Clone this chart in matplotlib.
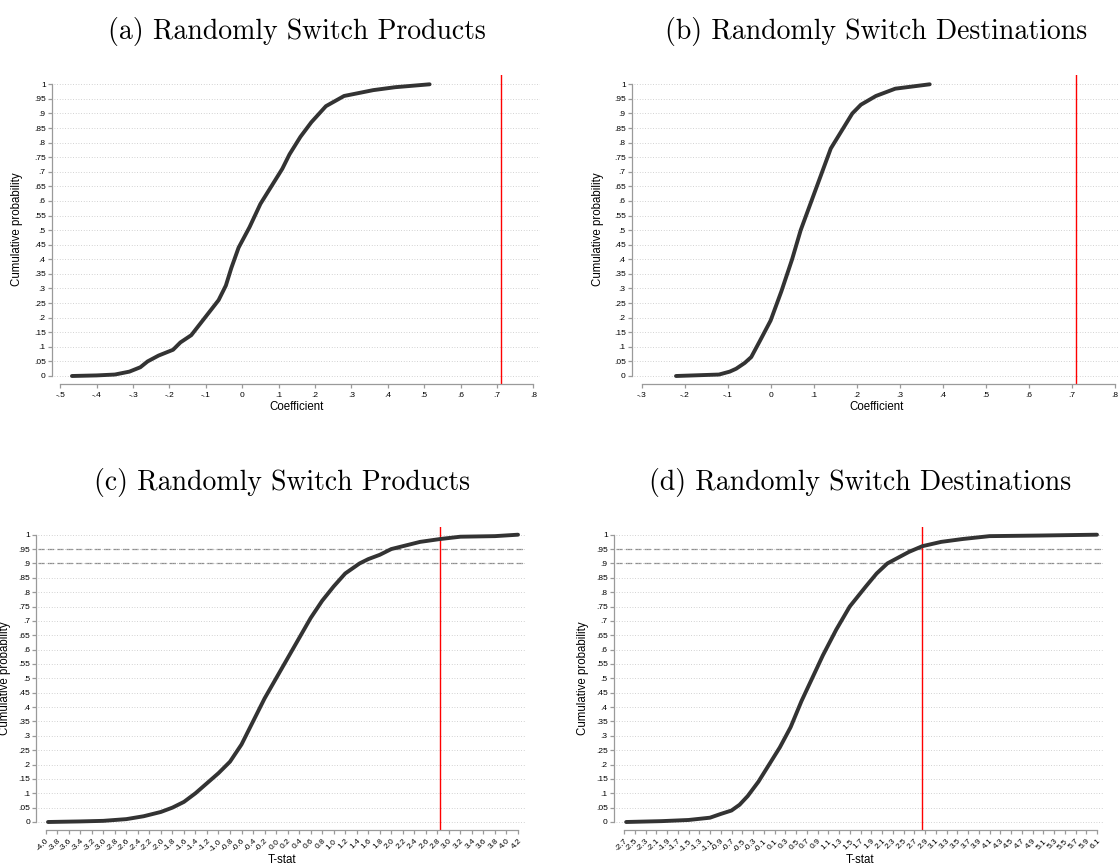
import numpy as np
import matplotlib
matplotlib.use("Agg")
import matplotlib.pyplot as plt

# cumulative distributions (value, cumulative probability)
prod_coef_x = [-0.468, -0.40, -0.35, -0.31, -0.28, -0.26, -0.23, -0.19, -0.17, -0.14, -0.115,
               -0.09, -0.065, -0.045, -0.03, -0.01, 0.02, 0.05, 0.08, 0.11, 0.13, 0.16, 0.19,
               0.23, 0.28, 0.36, 0.42, 0.515]
prod_coef_p = [0.0, 0.002, 0.005, 0.015, 0.03, 0.05, 0.07, 0.09, 0.115, 0.14, 0.18,
               0.22, 0.26, 0.31, 0.37, 0.44, 0.51, 0.59, 0.65, 0.71, 0.76, 0.82, 0.87,
               0.925, 0.96, 0.98, 0.99, 1.0]

dest_coef_x = [-0.22, -0.12, -0.095, -0.08, -0.06, -0.045, -0.025, 0.0, 0.025, 0.05, 0.07,
               0.095, 0.12, 0.14, 0.165, 0.19, 0.21, 0.245, 0.29, 0.37]
dest_coef_p = [0.0, 0.005, 0.015, 0.025, 0.045, 0.065, 0.12, 0.19, 0.29, 0.40, 0.50,
               0.60, 0.70, 0.78, 0.84, 0.90, 0.93, 0.96, 0.985, 1.0]

prod_t_x = [-3.96, -3.4, -3.0, -2.6, -2.3, -2.0, -1.8, -1.6, -1.4, -1.2, -1.0, -0.8, -0.6,
            -0.4, -0.2, 0.0, 0.2, 0.4, 0.6, 0.8, 1.0, 1.2, 1.45, 1.6, 1.8, 2.0, 2.2, 2.5,
            2.85, 3.2, 3.8, 4.2]
prod_t_p = [0.0, 0.002, 0.004, 0.01, 0.02, 0.035, 0.05, 0.07, 0.10, 0.135, 0.17, 0.21, 0.27,
            0.35, 0.43, 0.50, 0.57, 0.64, 0.71, 0.77, 0.82, 0.865, 0.90, 0.915, 0.93, 0.95,
            0.96, 0.975, 0.985, 0.993, 0.995, 1.0]

dest_t_x = [-2.66, -2.0, -1.5, -1.1, -0.9, -0.7, -0.55, -0.4, -0.2, 0.0, 0.2, 0.4, 0.6, 0.8,
            1.0, 1.25, 1.5, 1.8, 2.0, 2.2, 2.4, 2.6, 2.85, 3.2, 3.6, 4.1, 5.0, 6.1]
dest_t_p = [0.0, 0.003, 0.007, 0.015, 0.028, 0.04, 0.06, 0.09, 0.14, 0.20, 0.26, 0.33, 0.42,
            0.50, 0.58, 0.67, 0.75, 0.82, 0.865, 0.90, 0.92, 0.94, 0.96, 0.975, 0.985,
            0.995, 0.997, 1.0]

actual_coef = 0.71
actual_t = 2.85
levels = [0.9, 0.95]

titles = ["(a) Randomly Switch Products", "(b) Randomly Switch Destinations",
          "(c) Randomly Switch Products", "(d) Randomly Switch Destinations"]

y_ticks = [round(v * 0.05, 2) for v in range(21)]
ticks_a = [round(-0.5 + 0.1 * i, 1) for i in range(14)]
ticks_b = [round(-0.3 + 0.1 * i, 1) for i in range(12)]
ticks_c = [round(-4.0 + 0.2 * i, 1) for i in range(42)]
ticks_d = [round(-2.7 + 0.2 * i, 1) for i in range(45)]


def stata_lab(v):
    s = ("%.2f" % v).rstrip("0").rstrip(".")
    s = s.replace("0.", ".", 1) if s.lstrip("-").startswith("0.") else s
    return s


W, H = 1120, 866
fig = plt.figure(figsize=(W / 100, H / 100), dpi=100)
grey = "#9a9a9a"
sans = "Liberation Sans"


def panel(box, yb, xb, ticks, xlabs, xs, ps, vline, xlabel, title, rotate, dashed):
    left, top, right, bottom = box
    ax = fig.add_axes([left / W, 1 - bottom / H, (right - left) / W, (bottom - top) / H])

    # axis lines first: moving a spine resets the tick objects
    for s in ["top", "right"]:
        ax.spines[s].set_visible(False)
    ax.spines["left"].set_position(("outward", 1.5))
    for s in ["left", "bottom"]:
        ax.spines[s].set_color(grey)
        ax.spines[s].set_linewidth(0.9)

    # pixel positions of y=0/1 and of first/last x tick
    y0, y1 = yb
    xp0, xp1 = xb
    sy = 1.0 / (y0 - y1)
    ax.set_ylim(-(bottom - y0) * sy, 1 + (y1 - top) * sy)
    sx = (ticks[-1] - ticks[0]) / (xp1 - xp0)
    ax.set_xlim(ticks[0] - (xp0 - left) * sx, ticks[-1] + (right - xp1) * sx)
    ax.spines["left"].set_bounds(0, 1)
    ax.spines["bottom"].set_bounds(ticks[0], ticks[-1])

    ax.set_yticks(y_ticks)
    ax.set_yticklabels([stata_lab(v) for v in y_ticks])
    ax.set_xticks(ticks)
    ax.set_xticklabels(xlabs)
    ax.tick_params(axis="both", color=grey, length=3, width=0.9, pad=1.5,
                   labelsize=6, labelfontfamily=sans)
    ax.tick_params(axis="x", pad=2.5)
    if rotate:
        for lab in ax.get_xticklabels():
            lab.set_rotation(45)
            lab.set_ha("right")
            lab.set_rotation_mode("anchor")

    ax.grid(axis="y", linestyle=(0, (1, 2.2)), color="#c4c4c4", linewidth=0.6, zorder=0)
    for lv in dashed:
        ax.axhline(lv, color="#8c8c8c", linewidth=0.9, dashes=(5, 2.5), zorder=1)
    ax.axvline(vline, color="#ff0000", linewidth=1.0, zorder=2)
    ax.plot(xs, ps, color="#333333", linewidth=2.8, solid_capstyle="round", zorder=3)

    cx = (left + right) / 2
    ax.text(0.5, -(xlabel[1] - bottom) / (bottom - top), xlabel[0], transform=ax.transAxes,
            ha="center", va="center", fontsize=8.3, family=sans)
    ax.text(-(left - xlabel[2]) / (right - left), 0.5, "Cumulative probability",
            transform=ax.transAxes, rotation=90, ha="center", va="center",
            fontsize=8.3, family=sans)
    fig.text(cx / W, 1 - title[1] / H, title[0], ha="center", va="center",
             fontsize=20, family="cmr10")
    return ax


panel((54, 75, 540, 384.3), (376, 84.3), (60.3, 533.3), ticks_a,
      [stata_lab(v) for v in ticks_a], prod_coef_x, prod_coef_p, actual_coef,
      ("Coefficient", 407, 17), (titles[0], 32), False, [])
panel((634, 75, 1119, 384.3), (376, 84.3), (641.6, 1114.6), ticks_b,
      [stata_lab(v) for v in ticks_b], dest_coef_x, dest_coef_p, actual_coef,
      ("Coefficient", 407, 598), (titles[1], 32), False, [])
panel((38.3, 526.7, 525, 830), (822, 534.7), (45.7, 518), ticks_c,
      ["%.1f" % v for v in ticks_c], prod_t_x, prod_t_p, actual_t,
      ("T-stat", 860, 5), (titles[2], 482), True, levels)
panel((616, 526.7, 1104, 830), (822, 534.7), (624, 1097), ticks_d,
      ["%.1f" % v for v in ticks_d], dest_t_x, dest_t_p, actual_t,
      ("T-stat", 860, 583), (titles[3], 482), True, levels)

fig.savefig("out.png", dpi=100)
